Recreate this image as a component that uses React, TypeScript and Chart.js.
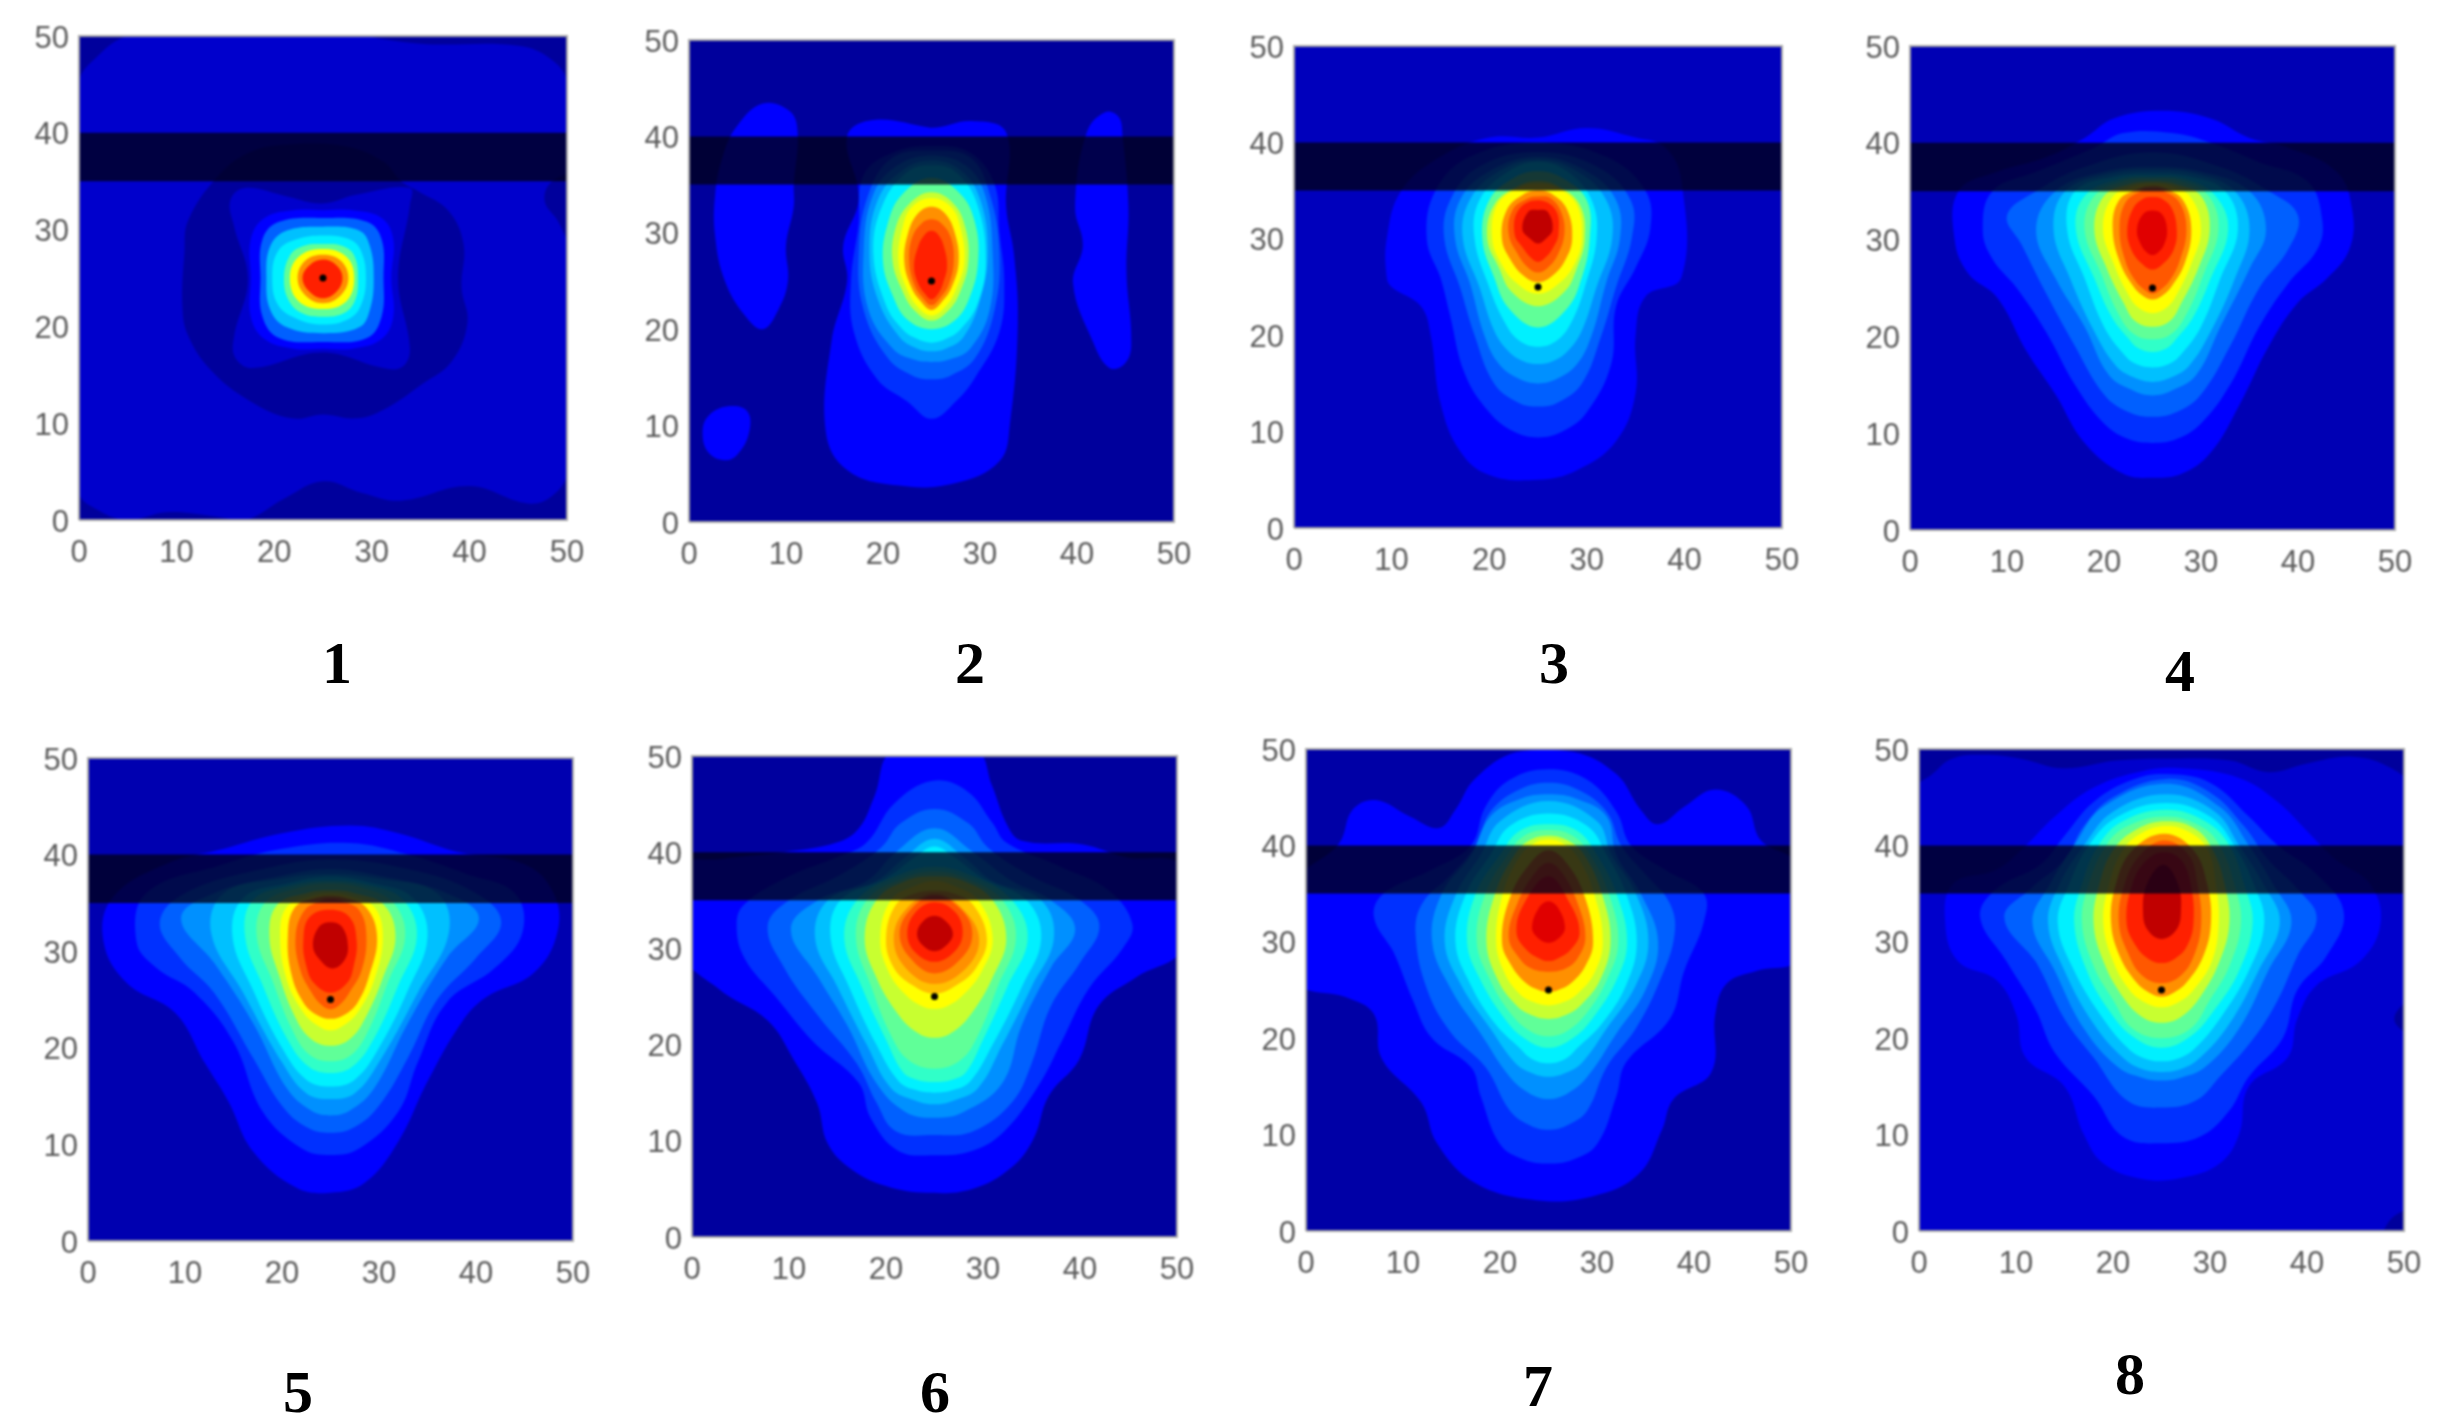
import { useEffect, useRef } from 'react';
import { Chart, registerables } from 'chart.js';

Chart.register(...registerables);

const tickValues = [0, 10, 20, 30, 40, 50];
const captions = ['1', '2', '3', '4', '5', '6', '7', '8'];
const bandRange = [35, 40];
const markedPoint = [25, 25];

// contour colours, lowest level first
const levelColors = [
	'#00009c', '#0000cc', '#0000ff', '#0030ff', '#0060ff', '#0090ff', '#00c0ff', '#00f0ff', '#30ffc8', '#60ff98',
	'#98ff60', '#c8ff30', '#ffff00', '#ffc000', '#ff9000', '#ff5800', '#ff2000', '#e00000', '#c00000',
];

// each contour: [level, [x, y, x, y, ...]], painted in this order
type Contour = [number, number[]];

const panel1: Contour[] = [
	[1, [0,3, 0,45, 2,48, 5,50, 10,50.5, 25,50.5, 35,49.2, 45,49, 48.5,47.5, 50,45, 50,5, 48.5,2.5, 46,1.7, 40,3.5, 33,2, 29,2.8, 25,4, 21,2.2, 17,0, 13,0.5, 9,0.8, 5,0, 2,1]],
	[0, [51,35.5, 48.5,35, 47.7,33, 49,31, 50.5,28.5]],
	[0, [10.8,27.6, 11.2,31, 14.3,35.6, 17.5,38, 21.4,38.8, 27.3,38.6, 31.2,37, 33,35, 34.7,34, 37.8,32, 39.4,28.5, 39.2,24, 39.8,20.4, 38.2,16.4, 35.1,14, 31.2,11.4, 28.4,10.5, 25,10.9, 21.8,10.5, 17.5,12.3, 13.5,15.5, 11.2,19, 10.6,22]],
	[1, [15.5,33, 17,34.3, 21.4,33.4, 24.9,32.7, 28.4,33.6, 33.9,34.3, 33.9,32.5, 32.7,24.9, 33.9,17.7, 33.1,15.8, 31.2,15.7, 24.9,17.3, 17.8,15.7, 16,16.8, 15.9,19, 17.3,24.9, 15.9,30.3]],
	[2, [17.6,25, 17.6,29, 19,31.2, 22,32, 25,32, 28,32, 31,31.2, 32.2,29, 32,25, 32.2,21, 31,18.7, 28,17.7, 25,17.7, 22,17.7, 19,18.7, 17.6,21]],
	[4, [18.6,25, 18.8,29, 20.5,30.8, 25,31.2, 29.5,30.8, 31,29, 31.2,25, 31,21, 29.5,18.8, 25,18.4, 20.5,18.8, 18.8,21]],
	[6, [19.2,25, 19.6,28.3, 21.3,29.9, 25,30.3, 28.7,29.9, 29.8,28.3, 30.2,25, 29.8,21.7, 28.7,19.9, 25,19.3, 21.3,19.9, 19.6,21.7]],
	[7, [19.8,25, 20.4,27.8, 22.3,29, 25,29.4, 27.7,29, 28.9,27.8, 29.4,25, 28.9,22.2, 27.7,20.8, 25,20.2, 22.3,20.8, 20.4,22.2]],
	[9, [21,24.8, 21.6,27.3, 23,28.3, 25,28.5, 27,28.3, 28.2,27.3, 28.6,24.8, 28.2,22.5, 27,21.3, 25,21, 23,21.3, 21.6,22.5]],
	[12, [21.6,25, 22.5,27.2, 25,28, 27.4,27.2, 28.2,25, 27.4,22.6, 25,21.8, 22.5,22.6]],
	[14, [22.4,25, 23.2,26.8, 25,27.4, 26.8,26.8, 27.6,25, 26.8,23.2, 25,22.4, 23.2,23.2]],
	[16, [22.9,25, 23.6,26.3, 25,26.9, 26.4,26.3, 27,25, 26.4,23.6, 25,22.9, 23.6,23.6]],
];

const panel2: Contour[] = [
	[2, [7.6,43.4, 10.4,42.6, 11.2,40.4, 10.8,35, 10.8,32.7, 10,28.7, 10.2,25, 9.2,22, 7.6,20, 5.7,21.5, 3.7,25, 2.7,29.6, 2.7,34, 3.5,38, 4.9,41]],
	[2, [42.9,42.5, 44.3,42, 44.7,40, 45.3,32.7, 45.1,26, 45.6,18.4, 44.9,16.4, 43.3,16, 41.6,18.8, 39.6,24.7, 40.6,28.7, 39.8,32.7, 41,40.4]],
	[2, [1.4,9.3, 2,11, 4,12, 6,11.5, 6.2,9.3, 5,7, 3.7,6.4, 2,7.2]],
	[2, [19,41.7, 24.9,40.9, 29.2,41.6, 32.7,40.4, 32.7,32.7, 33.5,27.8, 33.9,20.6, 33.1,10.3, 32,6.3, 27.3,4, 21.4,3.8, 16.3,5.4, 14.1,9.4, 14.7,18.8, 16.3,25, 15.9,28.7, 17.5,33.6, 16.3,40]],
	[3, [18,36, 21,38.3, 25,39, 29,38.3, 31.5,35, 32,30, 32.5,25, 32,19.7, 29.5,15, 27.5,12.5, 25,10.7, 22.5,12.5, 19.4,14.8, 17,19.7, 16.7,25, 17.5,31]],
	[4, [17.5,28, 18.5,34, 21,37.8, 25,38.5, 29,37.8, 31,34, 32,28, 31.5,22, 29.5,17, 27,15.2, 25,14.8, 23,15.2, 20.5,17, 18,22]],
	[5, [18,28, 19,34, 21.5,37, 25,38, 28.5,37, 30.5,34, 31.3,28, 31,22, 29,18, 27,16.9, 25,16.6, 23,16.9, 21,18, 18.5,22]],
	[6, [18.6,28, 19.5,33.5, 22,36.5, 25,37.5, 28,36.5, 30,33.5, 30.8,28, 30,23, 28.3,19.2, 26.5,18, 25,17.7, 23.5,18, 21.7,19.2, 19.5,23]],
	[7, [19,28, 20,33, 22.5,36.3, 25,37, 27.5,36.3, 29.7,33, 30.6,27, 29.7,22.5, 28,20, 26.5,19, 25,18.6, 23.5,19, 22,20, 20.3,22.5]],
	[9, [20,27, 20.5,31, 22,34, 25,35.7, 28,34, 29.5,31, 29.8,27, 29,23.5, 27.5,21, 25,20, 22.5,21, 21,23.5]],
	[11, [21,27, 21.3,30.5, 22.7,33, 25,34.2, 27.3,33, 28.5,30.5, 28.8,27, 28,24, 26.8,22, 25,20.9, 23.2,22, 22,24]],
	[12, [21.6,27, 22,30.5, 23,32.7, 25,33.6, 27,32.7, 28,30.5, 28.4,27, 27.6,24.3, 26.5,22.4, 25,21.4, 23.5,22.4, 22.4,24.3]],
	[14, [22.2,27, 22.6,30, 23.6,32, 25,32.7, 26.4,32, 27.4,30, 27.8,27, 27.1,24.4, 26.2,23, 25,22, 23.8,23, 22.9,24.4]],
	[15, [22.7,27, 23,29.5, 24,31, 25,31.4, 26,31, 27,29.5, 27.3,27, 26.8,24.7, 26,23.4, 25,22.5, 24,23.4, 23.2,24.7]],
	[16, [23.2,26.5, 23.6,28.5, 24.3,29.8, 25,30.2, 25.7,29.8, 26.3,28.5, 26.6,26.5, 26.2,24.8, 25.7,23.7, 25,23.1, 24.3,23.7, 23.6,24.8]],
];

const panel3: Contour[] = [
	[2, [9.5,26, 9.5,30, 11,35, 15,38.5, 20,40.5, 25,40.5, 30,41.5, 35,40.5, 38,39.5, 39.7,36, 39.7,26, 36,24, 35,20, 35,14, 33,9, 29,6, 25,5, 20,5.5, 17,8, 15,13, 14,20, 13,23, 10,25]],
	[3, [13.6,30, 14.5,35, 18,38.5, 25,40, 32,38.5, 36,35, 36.5,31, 35,27, 33,23, 32.5,17, 30,12, 27.5,10, 25,9.4, 22.5,10, 20,12, 17.5,16, 16,22, 15,26]],
	[4, [15.4,30, 16,34, 19,37.5, 25,39, 31,37.5, 34.5,34, 34.6,30, 33,25, 31.5,20, 29.5,15, 27,13, 25,12.6, 23,13, 20.5,15, 18.5,20, 17,25]],
	[5, [16.5,30, 17,34, 20,37, 25,38.5, 30,37, 33,34, 33.4,30, 32,25.5, 30.5,20, 29,17, 27,15.5, 25,15, 23,15.5, 21,17, 19.5,20, 18,25.5]],
	[6, [17.3,30, 18,34, 21,37, 25,38.2, 29,37, 32,34, 32.6,30, 31,25, 29.5,20.5, 28,18.3, 26.5,17.3, 25,17, 23.5,17.3, 22,18.3, 20.5,20.5, 19,25]],
	[7, [18.5,30, 19,34, 22,37, 25,38, 28,37, 30.5,34, 31,30, 29.8,25, 28.5,21.5, 27,19.5, 25,18.8, 23,19.5, 21.5,21.5, 20,25]],
	[9, [19.3,30, 20,34, 22.5,36.3, 25,37, 27.5,36.3, 30,34, 30.3,30, 29.5,26, 28,22.8, 25,20.8, 22,22.8, 20.5,26]],
	[11, [19.8,30, 20.5,33.5, 23,35.5, 25,36, 27,35.5, 29.3,33.5, 29.8,30, 29,27, 27.7,24.5, 25,23, 22.3,24.5, 21,27]],
	[12, [20.3,30, 20.8,33.5, 23,35.3, 25,35.7, 27,35.3, 29,33.5, 29.5,30, 28.8,27.5, 27.3,25.5, 25,24.3, 22.7,25.5, 21.2,27.5]],
	[14, [21.3,30, 21.8,33, 23.5,34.6, 25,35, 26.5,34.6, 28,33, 28.5,30, 27.8,27.8, 26.5,26.2, 25,25.5, 23.5,26.2, 22.2,27.8]],
	[15, [22,30.5, 22.4,33, 24,34.2, 25,34.4, 26.3,34.2, 27.4,32.7, 27.7,30.5, 27,28.3, 26,27, 25,26.5, 24,27, 23,28.3]],
	[16, [22.6,30.5, 23,33, 25,34, 26.8,33, 27.1,30.5, 26.5,29, 25.7,28, 25,27.6, 24.3,28, 23.5,29]],
	[18, [23.4,31, 24,32.8, 25,33, 26,32.8, 26.5,31, 25.8,30, 25,29.5, 24.2,30]],
];

const panel4: Contour[] = [
	[2, [4.6,30, 5,35, 9,37, 14,38.5, 18,40.5, 21,42.5, 26,43.3, 31,42.5, 35,40.5, 39,39.5, 44,37, 45.6,33, 45.3,29, 43,26, 40,23.5, 37,19, 34,13, 31,8, 28,5.8, 25,5.4, 22,5.8, 18,9, 15,14, 12,18.5, 9,24, 6,26.5]],
	[3, [7.5,31, 8.5,35, 13,37, 19,39.5, 22,41, 27,41, 31,40, 36,38, 41,36, 42.5,32, 42,29, 39,25.5, 36,21, 33,15, 30,11, 27.5,9.4, 25,9, 22.5,9.4, 20,11, 17,15, 14,20.5, 11,25, 8.5,28]],
	[4, [10,32.5, 13,35, 18,37.5, 25,39, 32,37.5, 37,35, 40,32.5, 39,29, 36,25, 33,19, 30,14, 27.5,12.2, 25,11.7, 22.5,12.2, 20,14, 17,19, 14,24.5, 11.5,29.5]],
	[5, [13,31, 15,35, 20,37, 25,37.5, 30,37, 35,35, 36.7,31, 35,27, 32,21, 29.5,16, 27,14.4, 25,13.9, 23,14.4, 20.5,16, 18,21, 15,26]],
	[6, [14.8,31, 16,35, 20.5,36.8, 25,37.2, 29.5,36.8, 33.5,35, 35,31, 33.5,26, 31,20.5, 28.8,17, 27,15.8, 25,15.3, 23,15.8, 21.2,17, 19,20.5, 16.5,26]],
	[7, [16.2,31, 17,35, 21,36.5, 25,36.8, 29,36.5, 32.5,35, 33.8,31, 32,26, 30,21, 28,18.2, 26.8,17.2, 25,16.8, 23.2,17.2, 22,18.2, 20,21, 18,26]],
	[8, [17.1,31, 18,34.5, 21.5,36.2, 25,36.5, 28.5,36.2, 31.5,34.5, 32.8,31, 31,26, 29.2,22, 27.5,19.8, 26.5,18.8, 25,18.4, 23.5,18.8, 22.5,19.8, 20.8,22, 19,26]],
	[9, [18,31, 19,34.5, 22,36, 25,36.3, 28,36, 30.8,34.5, 31.8,31, 30.3,26.5, 28.6,22.5, 27,20.3, 25,19.7, 23,20.3, 21.4,22.5, 19.7,26.5]],
	[11, [19,31, 20,34.5, 22.5,35.7, 25,36, 27.5,35.7, 30,34.5, 30.9,31, 29.7,27, 28,23.5, 26.8,21.6, 25,21, 23.2,21.6, 22,23.5, 20.3,27]],
	[12, [19.9,31, 20.8,34.3, 23,35.5, 25,35.8, 27,35.5, 29,34.3, 30,31, 29,27.5, 27.6,24.5, 26.5,23, 25,22.4, 23.5,23, 22.4,24.5, 21,27.5]],
	[14, [20.9,31, 21.5,34, 23.5,35.2, 25,35.5, 26.5,35.2, 28.2,34, 29,31, 28.3,27.5, 27,25.2, 26,24.2, 25,23.8, 24,24.2, 23,25.2, 21.7,27.5]],
	[15, [21.6,31, 22.2,33.8, 23.8,35, 25,35.2, 26.2,35, 27.8,33.8, 28.5,31, 27.8,27.8, 26.8,25.8, 25.8,24.8, 25,24.4, 24.2,24.8, 23.2,25.8, 22.2,27.8]],
	[16, [22.4,31, 23,33.2, 24,34.2, 25,34.4, 26,34.2, 27,33.2, 27.5,31, 27.2,29, 26.2,27.6, 25,26.9, 23.8,27.6, 22.8,29]],
	[17, [23.4,31, 24,32.6, 25,33, 26,32.6, 26.5,31, 26.2,29.5, 25.6,28.7, 25,28.4, 24.4,28.7, 23.8,29.5]],
];

const panel5: Contour[] = [
	[2, [1.6,31, 2.5,35.5, 8,39, 14,40.6, 20,42.2, 27,43, 32,42.2, 38,40.3, 45,39, 48,36, 48.4,32, 46,27.8, 41,25.2, 38.5,22.6, 35,16.5, 32,10.3, 28.5,6, 25,5, 21.5,5.5, 17,9.3, 14.5,14.4, 12,18.5, 9,23.6, 4,26.7]],
	[3, [5,31, 6,36, 14,39, 20,40.6, 27,41.2, 33,40, 39,38, 44,36, 44.8,32, 42,28.3, 37,24.7, 34,18.5, 32,13.4, 28,9.6, 25,8.9, 22,9.6, 18,13.4, 15,20.6, 11,25.7, 7,28.3]],
	[4, [7.4,33, 10,36, 18,38.5, 25,39.5, 33,38.5, 40,36, 42.6,33, 40,29.3, 36,25, 33,19, 30,14, 27.5,11.8, 25,11.2, 22.5,11.8, 20,14, 17,19, 13,25.7, 9.5,29.3]],
	[5, [9.6,33.4, 13,36, 20,37.8, 25,38.5, 30,37.8, 37,36, 40.3,33.4, 37,29.3, 33,22.6, 29.5,15.8, 27,13.5, 25,13, 23,13.5, 20.5,15.8, 17,22.6, 13,28.8]],
	[6, [12.7,31.9, 14,36, 20,37.5, 25,38, 30,37.5, 36,36, 37.2,31.9, 34,25.7, 30,18.5, 27.5,15.3, 25,14.7, 22.5,15.3, 20,18.5, 16,25.7]],
	[7, [14.9,31.5, 16,35.5, 20.5,37, 25,37.7, 29.5,37, 33.5,35.5, 35,31.5, 33,26, 30,20, 27.5,16.7, 25,16, 22.5,16.7, 20,20, 17,26]],
	[8, [16.2,31.5, 17,35.3, 21,36.8, 25,37.3, 29,36.8, 32.5,35.3, 33.9,31.5, 32,26.5, 29.5,21, 27.3,18.1, 25,17.4, 22.7,18.1, 20.5,21, 18,26.5]],
	[9, [17.4,31.5, 18.2,35, 21.5,36.5, 25,37, 28.5,36.5, 31.5,35, 32.7,31.5, 31,27, 29,22, 27.2,19.3, 25,18.6, 22.8,19.3, 21,22, 19,27]],
	[11, [18.7,31.5, 19.5,34.8, 22.5,36, 25,36.3, 27.5,36, 30.5,34.8, 31.7,31.5, 30.5,27.5, 28.7,23.3, 27,20.9, 25,20.2, 23,20.9, 21.3,23.3, 19.7,27.5]],
	[12, [19.8,31.5, 20.5,34.6, 23,35.7, 25,36, 27,35.7, 29.5,34.6, 30.4,31.5, 29.5,27, 27.9,23.8, 26.5,22.4, 25,21.8, 23.5,22.4, 22.1,23.8, 20.5,27]],
	[14, [20.6,31.5, 21.3,34.5, 23.5,35.5, 25,35.7, 26.5,35.5, 28.7,34.5, 29.8,31.5, 29,27.5, 27.8,24.7, 26.4,23.4, 25,23, 23.6,23.4, 22.2,24.7, 21,27.5]],
	[15, [21.4,31.5, 22.3,34.2, 24,35.2, 25,35.4, 26.2,35.2, 28,34.2, 28.7,31.5, 28.2,28, 27,25.8, 26,24.5, 25,24, 24,24.5, 23,25.8, 21.9,28]],
	[16, [22.2,31, 22.8,33.5, 25,34.3, 27,33.5, 27.7,31, 27.4,28.5, 26.7,26.7, 25,25.7, 23.3,26.7, 22.5,28.5]],
	[18, [23.2,30.5, 23.8,32.5, 25,33, 26.2,32.5, 26.8,30.5, 26.4,29, 25.2,28.2, 24,29]],
];

const panel6: Contour[] = [
	[2, [-1,38.5, -1,29.6, 3,25.6, 7.8,22.5, 10.5,18.4, 12.9,13.9, 14,9.7, 16.5,7, 20,5.3, 24.2,4.6, 28.9,5, 32.9,7.2, 35.2,10.2, 36.8,14.7, 39.9,18.4, 41.9,24, 45.8,27, 50.5,30, 50.5,38.5, 44.6,39.5, 40.3,40.8, 34,41.2, 32.5,42.8, 30.9,47, 29.3,50.5, 20.7,50.5, 18.8,45.8, 17.2,42.5, 14.9,41, 9.4,40, 3,39.3]],
	[3, [4.6,32.5, 5.4,34.6, 10,37.5, 15,39.5, 18,41, 20.8,45, 24.7,47.4, 28.3,46.4, 31,43, 32.4,41, 38,38.5, 43,36, 45.4,32.5, 44.4,30, 40.9,25.8, 38.1,20.3, 35.7,15.7, 32.2,11, 29,9, 25,8.5, 21.2,9, 18.4,12.4, 17.2,16, 12.5,20.3, 8.6,25, 5.4,29]],
	[4, [7.8,32.3, 10,35, 15,37.5, 19.5,40.5, 21.5,43, 25,44.5, 28.5,43, 30.5,40.5, 35,37.5, 40,35, 42,32.3, 40,28.5, 37,24, 35,18, 33,14, 29,11, 25,10.6, 21,11, 19,14, 17,18, 13,23, 9.5,28]],
	[5, [10.2,32, 13,35, 18,37, 21,40, 25,42.5, 29,40, 33,37, 37,35, 39.5,32, 37,28, 34,22, 32,16, 28,13, 25,12.4, 22,13, 19,16, 16,22, 13,27]],
	[6, [12.7,31, 14,35, 19,37, 22,39.5, 25,41.4, 28,39.5, 31,37, 36,35, 37.3,31, 35,26, 32,20, 29.5,15.5, 27,14.2, 25,13.8, 23,14.2, 20.5,15.5, 18,20, 15,26]],
	[7, [14.3,31, 15.3,35, 20,37.3, 23,39.5, 25,40.6, 27,39.5, 30,37.3, 34.5,35, 36,31, 34,26, 31,20, 28.7,16.2, 27,15.3, 25,15, 23,15.3, 21.3,16.2, 19,20, 16.2,26]],
	[8, [15.7,31, 17,35, 21,37.5, 25,38.5, 29,37.5, 33,35, 34.6,31, 32.5,26, 30,20.5, 28.3,17.2, 27,16.4, 25,16.1, 23,16.4, 21.7,17.2, 20,20.5, 17.5,26]],
	[9, [16.9,31, 18,35, 21.5,37.2, 25,38, 28.5,37.2, 32,35, 33.4,31, 31.5,26, 29.5,21, 27.7,18.4, 25,17.5, 22.3,18.4, 20.5,21, 18.5,26]],
	[11, [17.8,31, 19,35, 22,37, 25,37.5, 28,37, 31,35, 32.4,31, 31,27, 29,23.5, 27,21.4, 25,20.7, 23,21.4, 21,23.5, 19,27]],
	[12, [19.4,31, 20.5,35, 23,36.5, 25,37, 27,36.5, 29.5,35, 31,31, 29.8,27.5, 28,25.2, 26.5,24.1, 25,23.7, 23.5,24.1, 22,25.2, 20.3,27.5]],
	[13, [20,31, 21,34.5, 23,35.7, 25,36, 27,35.7, 29,34.5, 30.4,31, 29.3,28, 27.3,26.2, 25,25.3, 22.7,26.2, 20.8,28]],
	[14, [20.8,31, 22,34, 25,35.7, 28,34, 29.6,31, 28.3,28, 25,26.3, 22,28]],
	[15, [21.4,31.5, 22.5,34, 25,35.5, 27.8,34, 28.9,31.5, 27.8,29, 25,27.4, 22.5,29]],
	[16, [22.2,31.5, 23,33.7, 25,34.8, 27.2,33.7, 27.9,31.5, 27,29.6, 25,28.6, 23,29.6]],
	[18, [23.2,31.5, 23.8,32.8, 25,33.4, 26.2,32.8, 26.9,31.5, 26.2,30.3, 25,29.7, 23.8,30.3]],
];

const panel7: Contour[] = [
	[2, [-1,26, 4,24.3, 7,22.5, 7.8,17.9, 11.9,13.3, 13.5,9.1, 17.4,5, 23.7,3.2, 29.6,3.6, 34.3,5.9, 36.7,10.5, 37.9,13.7, 41.8,16.5, 42.2,22.5, 43.4,25.7, 46.5,27, 50.5,28.2, 50.5,38, 46.9,40.5, 45.4,44.1, 42.2,45.8, 39.1,44.1, 36.3,42.2, 34.5,43.7, 32,47.4, 27.6,49.7, 21.7,49.7, 17.4,46.9, 15.4,43.7, 13.7,41.8, 10.7,43, 7.2,44.7, 4.8,43.7, 3.4,40.2, -1,36]],
	[3, [7,32.6, 8,35, 13,37.5, 17,40, 18.5,44, 21,46.8, 25,47.9, 29,46.8, 32,43.5, 33.5,40, 37,37.5, 41,35, 41,32, 39,27, 37.5,22, 33,17.5, 32,14, 30,9, 27.5,7.4, 25,7, 22.5,7.4, 20,9, 18,14, 17,17, 13,20, 11,24, 9,29]],
	[4, [11.3,30.8, 12,34, 15,37, 17.5,40, 19,43.5, 22,45.8, 25,46.5, 28,45.8, 31,43.5, 32.5,40, 35,37, 37.5,34, 38,30.8, 36.5,26, 34,21, 31,17, 29,12.5, 27,11, 25,10.5, 23,11, 21,12.5, 18.5,17, 15,20.5, 12.5,25]],
	[5, [13,30, 14,35, 17,39, 19,43, 22,44.8, 25,45.3, 28,44.8, 31,43, 32,39, 34.5,35, 36.3,30, 35,25, 32,20.5, 29,16, 27,14.3, 25,13.7, 23,14.3, 21,16, 18,20.5, 15,25]],
	[6, [14.3,30, 15.5,35, 18,39, 20,42.5, 25,44.6, 30,42.5, 31.5,39, 34,35, 35.3,30, 34,25.5, 31,21, 28.5,17.5, 27,16.5, 25,16, 23,16.5, 21.5,17.5, 19,21, 16,25.5]],
	[7, [15.4,30, 16.5,35, 19,39, 21,42, 25,43.3, 29,42, 31,39, 33,35, 34.1,30, 33,25.5, 30.5,21.5, 28,19, 26.8,17.9, 25,17.4, 23.2,17.9, 22,19, 19.5,21.5, 17,25.5]],
	[8, [16.6,30, 17.5,35, 20,39, 22,41.5, 25,42.2, 28,41.5, 30,39, 32,35, 33.1,30, 32,26, 29.5,22, 27.5,20, 25,19, 22.5,20, 20.5,22, 18,26]],
	[9, [17.6,30, 18.5,35, 20.8,39, 22.5,41, 25,41.6, 27.5,41, 29.3,39, 31.2,35, 32.2,30, 31,26, 29,22.7, 27,20.8, 25,20.2, 23,20.8, 21,22.7, 19,26]],
	[11, [18.6,30, 19.5,35, 21.5,39, 23,40.5, 25,41, 27,40.5, 28.7,39, 30.5,35, 31.4,30, 30.3,26, 28.5,23.6, 27,22.5, 25,22, 23,22.5, 21.5,23.6, 19.8,26]],
	[12, [19.6,30, 20.3,35, 22,38.8, 23.5,40.2, 25,40.6, 26.5,40.2, 28,38.8, 29.7,35, 30.6,30, 29.7,26.7, 28,24.6, 26.7,23.8, 25,23.4, 23.3,23.8, 22,24.6, 20.5,26.7]],
	[14, [20.2,30, 21,34.5, 23,38, 25,39.5, 27,38, 28.8,34.5, 29.6,30, 28.8,27.5, 27.3,25.7, 26,25, 25,24.8, 24,25, 22.7,25.7, 21.2,27.5]],
	[15, [20.9,30.5, 21.8,34, 23.5,37, 25,38.2, 26.5,37, 28,34, 28.8,30.5, 28,28.3, 26.7,27.2, 25,26.9, 23.3,27.2, 22,28.3]],
	[16, [21.7,31, 22.5,34, 25,36.8, 27.2,34, 28.2,31, 27.3,29.2, 26,28.3, 25,28, 24,28.3, 22.7,29.2]],
	[17, [23.3,31.5, 24,33.5, 25,34.2, 26,33.5, 26.7,31.5, 26.2,30.5, 25,29.9, 23.8,30.5]],
];

const panel8: Contour[] = [
	[1, [-1,45, 1.5,47.5, 3.4,49, 6.6,49.4, 10.5,49, 14.9,48, 20.4,48.8, 26.2,49, 32.1,48.8, 36,47.6, 40,48.5, 44.7,49.2, 48.7,48, 50.5,46, 50.5,24.8, 49,22, 50.5,19.7, 50.5,3, 48.7,1.3, 47,-0.5, 2,-0.5, -0.5,1.5]],
	[2, [2.7,32, 3.5,36, 8,37.5, 11,40, 14,43, 18,46, 23,47.7, 27,48, 33,47, 37,44.5, 40,41.5, 43,38.5, 46.5,36, 47.6,32, 45.5,28, 41,25.5, 39,22, 38,18, 34,15, 33,10, 31,7, 27,5.5, 23,5.4, 19,7, 17,10, 15,15, 11,18, 10,22.5, 8,26, 4,28]],
	[3, [6.3,32.6, 8,35.5, 12.5,38, 15,41, 18,44.5, 22,46.8, 25.5,47.4, 30,46.5, 34,43, 37,40, 41,37, 43.8,33, 42,28.5, 39,25, 37.5,20, 34,16, 32,12.5, 29,9.8, 25,9.1, 21,9.8, 18,14, 14,18.5, 12,23, 9,28]],
	[4, [8.8,32.5, 11.5,35.5, 15,38.5, 17,42, 20,45, 25.5,46.9, 30,45.5, 33.5,42, 36,38.5, 39,35.5, 41,32.5, 39,28.5, 37,24, 34.5,20, 31,16, 28.5,13.5, 25,12.8, 21.5,13.5, 18,18, 15,22, 12,28]],
	[5, [11.7,32, 13.5,36, 16,40, 19,44, 25.5,46.4, 31,44, 34,40, 36.5,36, 38.4,32, 36,27, 33,21, 29.5,17, 27,15.9, 25,15.6, 23,15.9, 20.5,17, 17,21, 14,27]],
	[6, [13.3,32, 14.5,36, 17,40, 20,43.5, 25.5,45.3, 30.5,43.5, 33,40, 35.5,36, 37.2,32, 35,27, 32,21.5, 29,18, 27,16.8, 25,16.5, 23,16.8, 21,18, 18,21.5, 15,27]],
	[7, [14.3,32, 15.5,36, 17.5,40, 20.5,43, 25.5,44.4, 30,43, 32.5,40, 34.5,36, 35.6,32, 34,27, 31,22, 28.5,19, 27,18, 25,17.6, 23,18, 21.5,19, 19,22, 16,27]],
	[8, [16,32, 16.8,36, 18.5,40, 21,42.5, 25.5,43.7, 29.5,42.5, 32,40, 33.5,36, 34.4,32, 33,27, 30.5,23, 28,20.2, 25,19, 22,20.2, 19.5,23, 17.3,27]],
	[9, [16.8,32, 17.5,36, 19.3,40, 21.5,42, 25.5,43, 29,42, 31,40, 32.5,36, 33.2,32, 32,27.5, 30,24, 28,21, 25,20, 22,21, 20,24, 18,27.5]],
	[11, [18,32, 18.6,36, 20,39.5, 22.5,41.7, 25.5,42.5, 28.5,41.7, 30.3,39.5, 31.5,36, 32,32, 31,28, 29,24.3, 27,22.2, 25,21.6, 23,22.2, 21,24.3, 19,28]],
	[12, [19,32, 19.6,36, 21,39.5, 23,41.3, 25.5,42, 28,41.3, 29.8,39.5, 30.6,36, 30.9,32, 30.2,28, 28.3,25, 26.7,23.7, 25,23.2, 23.3,23.7, 21.7,25, 20,28]],
	[14, [19.8,32, 20.3,36, 22,39.5, 25.3,41.2, 28.3,39.5, 29.7,36, 30.1,32, 29.3,28.5, 27.6,25.8, 26.2,24.7, 25,24.3, 23.8,24.7, 22.4,25.8, 20.7,28.5]],
	[15, [20.6,32, 21.2,36, 22.8,39, 25.3,40.5, 27.8,39, 28.7,36, 29.1,32, 28.4,28.7, 27,26.5, 25,25.7, 23,26.5, 21.6,28.7]],
	[16, [21.4,32, 22,36, 23.5,38.5, 25.3,39.3, 27,38.5, 28,36, 28.3,32, 27.6,29.5, 26.3,28.2, 25,27.8, 23.7,28.2, 22.4,29.5]],
	[18, [23.1,33, 23.5,36, 25.2,38, 26.7,36, 27,33, 26.5,31.2, 25,30.3, 23.6,31.2]],
];

const panelContours = [panel1, panel2, panel3, panel4, panel5, panel6, panel7, panel8];
const panelBackgrounds = ['#00009c', '#00009c', '#0000bc', '#0000b4', '#0000b0', '#00009e', '#0000a6', '#00009c'];

// plot rectangle of every panel in the page: left, top, width, height
const plotRects = [
	[79, 36, 488, 484], [689, 39.5, 485.5, 482], [1294, 45.5, 488, 482], [1910, 46, 485.5, 484],
	[87.5, 757.5, 485.5, 483], [692, 756, 485.5, 481], [1306, 749, 485, 482], [1919, 749, 485.5, 482],
];
// where the caption numbers sit: centre x, centre y
const captionSpots = [[337, 669], [970, 669], [1554, 669], [2180, 677], [298, 1398], [935, 1398], [1538, 1392], [2130, 1380]];

const gutterLeft = 62;
const gutterTop = 22;
const gutterRight = 32;
const gutterBottom = 62;

function toPoints(flat: number[]) {
	const pts: { x: number; y: number }[] = [];
	for (let i = 0; i < flat.length; i += 2) pts.push({ x: flat[i], y: flat[i + 1] });
	// wrap round so the spline closes smoothly
	return [pts[pts.length - 1], ...pts, pts[0], pts[1]];
}

function polygon(data: { x: number; y: number }[], color: string) {
	return {
		data,
		showLine: true,
		fill: 'shape',
		backgroundColor: color,
		borderColor: color,
		borderWidth: 0,
		pointRadius: 0,
		tension: 0,
	};
}

function Panel({ index }: { index: number }) {
	const canvasRef = useRef<HTMLCanvasElement | null>(null);
	const [left, top, w, h] = plotRects[index];

	useEffect(() => {
		if (!canvasRef.current) return;
		const square = [{ x: 0, y: 0 }, { x: 50, y: 0 }, { x: 50, y: 50 }, { x: 0, y: 50 }, { x: 0, y: 0 }];
		const band = [
			{ x: 0, y: bandRange[0] }, { x: 50, y: bandRange[0] },
			{ x: 50, y: bandRange[1] }, { x: 0, y: bandRange[1] },
		];
		const painted: any[] = [
			polygon(square, panelBackgrounds[index]),
			...panelContours[index].map(([level, flat]) => ({
				...polygon(toPoints(flat), levelColors[level]),
				tension: 0.4,
			})),
			polygon(band, 'rgba(0,0,25,0.78)'),
			{
				data: [{ x: markedPoint[0], y: markedPoint[1] }],
				pointRadius: 3.5,
				pointBackgroundColor: '#000',
				pointBorderWidth: 0,
			},
			{
				...polygon(square, '#a8a8a8'),
				fill: false,
				borderWidth: 2,
				clip: false,
			},
		];
		const axis = (padding: number, labelOffset: number) => ({
			type: 'linear' as const,
			min: 0,
			max: 50,
			grid: { display: false, drawTicks: false },
			border: { display: false },
			afterBuildTicks: (scale: any) => {
				scale.ticks = tickValues.map((value) => ({ value }));
			},
			ticks: {
				color: '#5c5c5c',
				padding,
				labelOffset,
				maxRotation: 0,
				font: { family: '"Liberation Sans", Arial, sans-serif', size: 31 },
			},
		});
		const chart = new Chart(canvasRef.current, {
			type: 'scatter',
			// first dataset ends up on top in Chart.js, so hand them over reversed
			data: { datasets: painted.reverse() },
			options: {
				animation: false,
				responsive: false,
				events: [],
				layout: { padding: { top: gutterTop, right: gutterRight, left: 0, bottom: 0 } },
				plugins: { legend: { display: false }, tooltip: { enabled: false } },
				scales: {
					x: {
						...axis(15, 0),
						afterFit: (scale: any) => {
							scale.height = gutterBottom;
							scale.paddingLeft = 0;
							scale.paddingRight = 0;
						},
					},
					y: {
						...axis(10, 3),
						afterFit: (scale: any) => {
							scale.width = gutterLeft;
							scale.paddingTop = 0;
							scale.paddingBottom = 0;
						},
					},
				},
			} as any,
		});
		return () => chart.destroy();
	}, [index]);

	return (
		<canvas
			ref={canvasRef}
			width={w + gutterLeft + gutterRight}
			height={h + gutterTop + gutterBottom}
			style={{
				position: 'absolute',
				left: left - gutterLeft,
				top: top - gutterTop,
				filter: 'blur(0.8px)',
			}}
		/>
	);
}

export default function App() {
	return (
		<div style={{ position: 'absolute', left: 0, top: 0, width: 2447, height: 1427, background: '#fff', overflow: 'hidden' }}>
			{captions.map((text, i) => (
				<Panel key={text} index={i} />
			))}
			{captions.map((text, i) => (
				<div
					key={text}
					style={{
						position: 'absolute',
						left: captionSpots[i][0] - 40,
						top: captionSpots[i][1] - 40,
						width: 80,
						height: 80,
						lineHeight: '80px',
						textAlign: 'center',
						font: 'bold 60px "Liberation Serif", serif',
						color: '#000',
					}}
				>
					{text}
				</div>
			))}
		</div>
	);
}
